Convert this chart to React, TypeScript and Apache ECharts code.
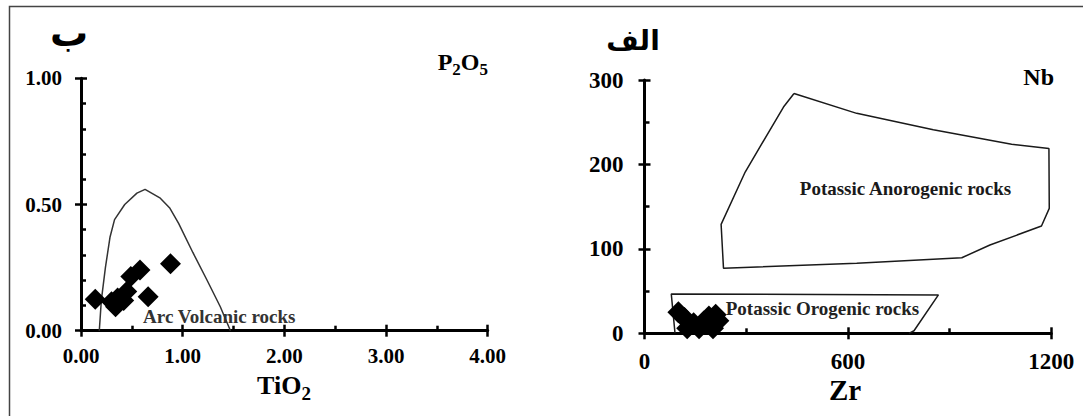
import React, { useEffect, useRef } from 'react';
import * as echarts from 'echarts';

const SERIF = '"Liberation Serif", "Times New Roman", serif';
const ARABIC = '"DejaVu Sans", sans-serif';

// ---- Left diagram: TiO2 vs P2O5 ----
const arcVolcanicBoundary: [number, number][] = [
  [0.18, 0.0], [0.2, 0.12], [0.24, 0.25], [0.285, 0.37], [0.33, 0.44], [0.43, 0.5],
  [0.55, 0.545], [0.63, 0.56], [0.78, 0.525], [0.875, 0.485], [0.96, 0.425],
  [1.1, 0.31], [1.24, 0.2], [1.37, 0.095], [1.47, 0.0],
];
const leftSamples: [number, number][] = [
  [0.14, 0.125], [0.3, 0.115], [0.34, 0.095], [0.36, 0.13], [0.42, 0.12],
  [0.45, 0.155], [0.49, 0.215], [0.58, 0.24], [0.66, 0.135], [0.88, 0.265],
];
const leftXTickLabels = ['0.00', '1.00', '2.00', '3.00', '4.00'];
const leftYTickLabels = ['0.00', '0.50', '1.00'];
const arcLabelPos: [number, number] = [1.36, 0.055];

// ---- Right diagram: Zr vs Nb ----
const anorogenicField: [number, number][] = [
  [441, 284], [410, 268], [297, 191], [226, 129], [233, 77], [626, 83], [936, 89.5],
  [1019, 104.6], [1171, 127], [1194, 148], [1193, 219], [1083, 224], [852, 241],
  [626, 260.5], [441, 284],
];
const orogenicField: [number, number][] = [
  [90, 0], [79, 46.5], [867, 45.5], [795, 3], [780, 0],
];
const rightSamples: [number, number][] = [
  [100, 25], [118, 18], [126, 6], [145, 12], [161, 6], [175, 14], [190, 20],
  [202, 6], [210, 22], [218, 15],
];
const rightXTickLabels = ['0', '600', '1200'];
const rightYTickLabels = ['0', '100', '200', '300'];
const anorogenicLabelPos: [number, number] = [770, 171.7];
const orogenicLabelPos: [number, number] = [525, 29.6];

const tickLine = () => ({ color: '#000', width: 2.5 });

function mainAxis(
  position: 'bottom' | 'left', min: number, max: number, interval: number,
  minorSplit: number, labels: string[], fontSize: number, margin: number,
) {
  return {
    type: 'value', gridIndex: 0, position, min, max, interval,
    axisLine: { show: true, onZero: false, lineStyle: { color: '#000', width: 3 } },
    axisTick: { show: true, inside: true, length: 6, lineStyle: tickLine() },
    minorTick: { show: true, splitNumber: minorSplit, length: 5, lineStyle: tickLine() },
    axisLabel: {
      show: true, margin, fontSize, fontWeight: 'bold', color: '#000', fontFamily: SERIF,
      formatter: (v: number) => labels[Math.round((v - min) / interval)] ?? '',
    },
    splitLine: { show: false },
  };
}

function outwardAxis(position: 'bottom' | 'left', min: number, max: number, interval: number) {
  return {
    type: 'value', gridIndex: 0, position, min, max, interval,
    axisLine: { show: false, onZero: false },
    axisTick: { show: true, inside: false, length: 6, lineStyle: tickLine() },
    axisLabel: { show: false },
    splitLine: { show: false },
  };
}

function txt(text: string, x: number, y: number, font: string, fill = '#000', align = 'left') {
  return {
    type: 'text', x, y, z: 10, silent: true,
    style: { text, font, fill, align, verticalAlign: 'middle' },
  };
}

function subscriptTitle(parts: [string, string][], anchorX: number, y: number, anchor: 'right' | 'center', big: number, small: number, subDy: number) {
  const ctx = document.createElement('canvas').getContext('2d')!;
  const bigFont = `bold ${big}px ${SERIF}`;
  const smallFont = `bold ${small}px ${SERIF}`;
  const pieces: { t: string; font: string; dy: number; w: number }[] = [];
  parts.forEach(([a, b]) => {
    ctx.font = bigFont;
    pieces.push({ t: a, font: bigFont, dy: 0, w: ctx.measureText(a).width });
    if (b) {
      ctx.font = smallFont;
      pieces.push({ t: b, font: smallFont, dy: subDy, w: ctx.measureText(b).width });
    }
  });
  const total = pieces.reduce((s, p) => s + p.w, 0);
  let x = anchor === 'right' ? anchorX - total : anchorX - total / 2;
  return pieces.map((p) => {
    const el = txt(p.t, x, y + p.dy, p.font);
    x += p.w;
    return el;
  });
}

const layerStyle: React.CSSProperties = { position: 'absolute', left: 0, top: 0, width: 1083, height: 416 };

export default function App() {
  const refA = useRef<HTMLDivElement>(null);
  const refB = useRef<HTMLDivElement>(null);
  const refC = useRef<HTMLDivElement>(null);
  useEffect(() => {
    if (!refA.current || !refB.current || !refC.current) return;
    const left = echarts.init(refA.current, undefined, { renderer: 'svg' });
    const right = echarts.init(refB.current, undefined, { renderer: 'svg' });
    const overlay = echarts.init(refC.current, undefined, { renderer: 'svg' });

    left.setOption({
      animation: false,
      backgroundColor: 'transparent',
      grid: [{ left: 81, top: 78.3, width: 406.7, height: 252.4 }],
      xAxis: [
        mainAxis('bottom', 0, 4, 1, 2, leftXTickLabels, 21, 15),
        outwardAxis('bottom', 0, 4, 1),
      ],
      yAxis: [
        mainAxis('left', 0, 1, 0.5, 5, leftYTickLabels, 21, 19),
        outwardAxis('left', 0, 1, 0.5),
      ],
      series: [
        {
          type: 'line', xAxisIndex: 0, yAxisIndex: 0, data: arcVolcanicBoundary,
          showSymbol: false, symbol: 'none', lineStyle: { color: '#333', width: 1.5 }, z: 1, silent: true,
        },
        {
          type: 'scatter', xAxisIndex: 0, yAxisIndex: 0, data: leftSamples,
          symbol: 'diamond', symbolSize: 21, itemStyle: { color: '#000', opacity: 1 }, z: 3,
        },
      ],
    });

    right.setOption({
      animation: false,
      backgroundColor: 'transparent',
      grid: [{ left: 644.5, top: 80, width: 406.8, height: 253.3 }],
      xAxis: [
        mainAxis('bottom', 0, 1200, 600, 2, rightXTickLabels, 23, 17),
        outwardAxis('bottom', 0, 1200, 600),
      ],
      yAxis: [
        mainAxis('left', 0, 300, 100, 2, rightYTickLabels, 23, 21),
        outwardAxis('left', 0, 300, 100),
      ],
      series: [
        {
          type: 'line', xAxisIndex: 0, yAxisIndex: 0, data: anorogenicField,
          showSymbol: false, symbol: 'none', lineStyle: { color: '#1a1a1a', width: 1.5 }, z: 1, silent: true,
        },
        {
          type: 'line', xAxisIndex: 0, yAxisIndex: 0, data: orogenicField,
          showSymbol: false, symbol: 'none', lineStyle: { color: '#1a1a1a', width: 1.5 }, z: 1, silent: true,
        },
        {
          type: 'scatter', xAxisIndex: 0, yAxisIndex: 0, data: rightSamples,
          symbol: 'diamond', symbolSize: 22, itemStyle: { color: '#000', opacity: 1 }, z: 3,
        },
      ],
    });

    const arcPx = left.convertToPixel({ seriesIndex: 1 }, arcLabelPos) as number[];
    const anoPx = right.convertToPixel({ seriesIndex: 2 }, anorogenicLabelPos) as number[];
    const oroPx = right.convertToPixel({ seriesIndex: 2 }, orogenicLabelPos) as number[];
    const regionFont = `bold 19px ${SERIF}`;

    overlay.setOption({
      animation: false,
      backgroundColor: 'transparent',
      graphic: [
        {
          type: 'rect', z: 0, silent: true,
          shape: { x: 9.5, y: 6.5, width: 1100, height: 440 },
          style: { fill: 'none', stroke: '#444', lineWidth: 1.5 },
        },
        txt('Arc Volcanic rocks', arcPx[0], arcPx[1], regionFont, '#333', 'center'),
        txt('Potassic Anorogenic rocks', anoPx[0], anoPx[1], regionFont, '#1a1a1a', 'center'),
        txt('Potassic Orogenic rocks', oroPx[0], oroPx[1], regionFont, '#222', 'center'),
        txt('ب', 69, 33, `bold 38px ${ARABIC}`, '#000', 'center'),
        txt('الف', 633, 40, `bold 28px ${ARABIC}`, '#000', 'center'),
        txt('Nb', 1054, 77, `bold 24px ${SERIF}`, '#000', 'right'),
        txt('Zr', 845, 389.5, `bold 29px ${SERIF}`, '#000', 'center'),
        ...subscriptTitle([['P', '2'], ['O', '5']], 488, 62, 'right', 24, 17, 7.5),
        ...subscriptTitle([['TiO', '2']], 284, 385.5, 'center', 26, 19, 8),
      ],
    });

    return () => {
      left.dispose();
      right.dispose();
      overlay.dispose();
    };
  }, []);
  return (
    <div style={{ position: 'absolute', left: 0, top: 0, width: 1083, height: 416 }}>
      <div ref={refA} style={layerStyle} />
      <div ref={refB} style={layerStyle} />
      <div ref={refC} style={{ ...layerStyle, pointerEvents: 'none' }} />
    </div>
  );
}
